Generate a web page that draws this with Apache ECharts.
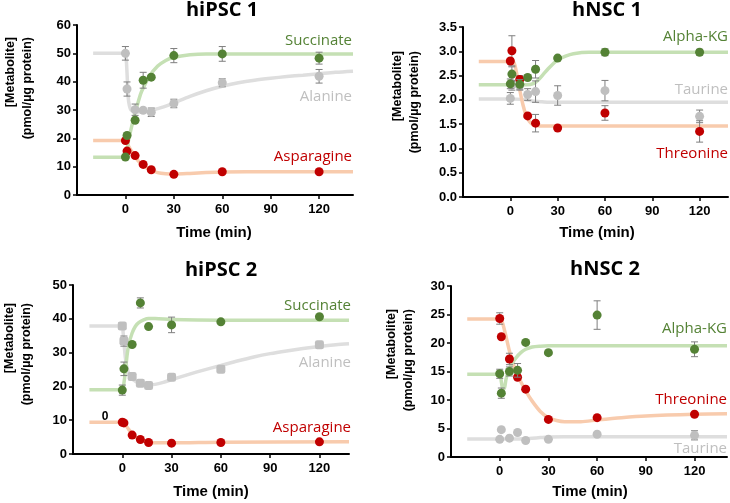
<!DOCTYPE html>
<html>
<head>
<meta charset="utf-8">
<script src="https://cdn.jsdelivr.net/npm/echarts@6/dist/echarts.min.js"></script>
<style>html,body{margin:0;padding:0;background:#fff}#c{width:730px;height:503px}</style>
</head>
<body>
<div id="c"></div>
<script>
// ---- data ----
const times = [0, 1, 6, 11, 16, 30, 60, 120];
const xTicks = [0, 30, 60, 90, 120];

// hiPSC 1
const p1Ala = [50.0, 37.4, 30.1, 29.9, 29.2, 32.3, 39.6, 41.9];
const p1AlaErr = [2.4, 2.5, 2.0, 0.5, 1.5, 1.5, 1.4, 2.4];
const p1Suc = [13.4, 21.0, 26.4, 40.5, 41.6, 49.2, 49.8, 48.3];
const p1SucErr = [0, 0, 0, 2.8, 0, 2.5, 2.6, 2.1];
const p1Asn = [19.2, 15.5, 13.9, 10.8, 8.9, 7.3, 8.2, 8.2];
const p1AsnErr = [0, 0, 0, 0, 0, 0, 0, 0];
const p1AlaFitT = [-20, 0, 0.5, 1, 1.5, 2, 3, 4, 6, 10, 15, 20, 25, 30, 40, 50, 60, 70, 80, 90, 100, 110, 120, 130, 141];
const p1AlaFitV = [50, 50, 48, 43, 37, 33, 30.5, 29.8, 29.5, 29.3, 29.6, 30.5, 31.4, 32.5, 34.8, 36.8, 38.4, 39.6, 40.5, 41.2, 41.8, 42.3, 42.8, 43.3, 43.7];
const p1SucFitT = [-20, 0, 1, 2, 4, 6, 8, 10, 15, 20, 25, 30, 40, 50, 60, 90, 141];
const p1SucFitV = [13.3, 13.3, 16, 19.5, 24.5, 29, 33, 36.5, 42, 45.5, 47.5, 48.6, 49.5, 49.8, 49.8, 49.8, 49.8];
const p1AsnFitT = [-20, 0, 1, 2, 4, 6, 8, 10, 15, 20, 25, 30, 40, 50, 60, 90, 141];
const p1AsnFitV = [19.2, 19.2, 18.5, 17.2, 15.3, 13.5, 12.0, 10.8, 8.9, 7.9, 7.5, 7.4, 7.6, 7.9, 8.1, 8.2, 8.2];

// hNSC 1
const p2Thr = [2.80, 3.01, 2.42, 1.67, 1.52, 1.42, 1.73, 1.35];
const p2ThrErr = [0.05, 0.31, 0.08, 0, 0.18, 0, 0.15, 0.22];
const p2Akg = [2.33, 2.53, 2.32, 2.46, 2.63, 2.86, 2.98, 2.98];
const p2AkgErr = [0.1, 0.15, 0.1, 0.05, 0.18, 0, 0.07, 0.06];
const p2Tau = [2.03, 2.30, 2.30, 2.11, 2.17, 2.09, 2.19, 1.66];
const p2TauErr = [0.12, 0.1, 0.1, 0.12, 0.22, 0.2, 0.21, 0.13];
const p2ThrFitT = [-20, 0, 2, 3, 4, 5, 6, 8, 10, 12, 14, 17, 20, 30, 60, 138];
const p2ThrFitV = [2.79, 2.79, 2.78, 2.7, 2.55, 2.38, 2.2, 1.9, 1.68, 1.56, 1.5, 1.47, 1.46, 1.46, 1.46, 1.46];
const p2AkgFitT = [-20, 0, 10, 15, 18, 21, 24, 27, 30, 35, 40, 50, 60, 138];
const p2AkgFitV = [2.31, 2.31, 2.31, 2.34, 2.42, 2.53, 2.64, 2.74, 2.82, 2.9, 2.95, 2.98, 2.98, 2.98];
const p2TauFitT = [-20, 0, 8, 12, 16, 20, 25, 30, 60, 138];
const p2TauFitV = [2.02, 2.02, 2.01, 1.99, 1.97, 1.96, 1.95, 1.95, 1.95, 1.95];

// hiPSC 2
const p3Ala = [37.9, 33.4, 22.9, 20.9, 20.3, 22.7, 25.1, 32.3];
const p3AlaErr = [1.0, 1.5, 0, 0, 0, 0, 0, 0];
const p3Suc = [18.9, 25.2, 32.4, 44.7, 37.7, 38.2, 39.1, 40.6];
const p3SucErr = [1.5, 2.0, 0, 1.5, 0, 2.3, 0, 0];
const p3Asn = [9.4, 9.2, 5.6, 4.3, 3.4, 3.2, 3.4, 3.6];
const p3AsnErr = [0, 0, 0, 0, 0, 0, 0, 0];
const p3AlaFitT = [-20, 0, 0.5, 1, 2, 3, 4, 6, 8, 10, 15, 20, 25, 30, 40, 50, 60, 70, 80, 90, 100, 110, 120, 130, 138];
const p3AlaFitV = [37.9, 37.9, 36, 33, 28, 25.3, 23.8, 22.3, 21.5, 21.0, 20.4, 20.6, 21.2, 22.0, 23.5, 24.9, 26.2, 27.5, 28.7, 29.7, 30.5, 31.2, 31.8, 32.3, 32.6];
const p3SucFitT = [-20, 0, 1, 2, 3, 4, 6, 8, 10, 13, 16, 20, 30, 60, 138];
const p3SucFitV = [19, 19, 21, 25, 29.5, 32.5, 35.8, 37.8, 38.9, 39.7, 40.1, 40.1, 39.8, 39.6, 39.6];
const p3AsnFitT = [-20, 0, 1, 2, 4, 6, 8, 10, 13, 16, 20, 30, 60, 138];
const p3AsnFitV = [9.4, 9.4, 9.2, 8.6, 7.2, 6.0, 5.1, 4.5, 3.8, 3.5, 3.3, 3.3, 3.5, 3.6];

// hNSC 2
const p4Thr = [24.3, 21.1, 17.2, 14.0, 11.9, 6.6, 6.9, 7.5];
const p4ThrErr = [1.0, 0, 1.0, 0, 0, 0, 0, 0];
const p4Akg = [14.6, 11.2, 15.0, 15.2, 20.1, 18.3, 24.9, 18.9];
const p4AkgErr = [0.8, 0.9, 0.8, 1.2, 0, 0, 2.5, 1.3];
const p4Tau = [3.1, 4.8, 3.3, 4.3, 2.9, 3.1, 4.0, 3.8];
const p4TauErr = [0, 0, 0, 0, 0, 0, 0, 0.8];
const p4ThrFitT = [-20, 0, 1, 2, 4, 6, 8, 10, 13, 16, 20, 25, 30, 35, 40, 50, 60, 75, 90, 120, 140];
const p4ThrFitV = [24.2, 24.2, 24.0, 23.3, 21, 18.6, 16.6, 15.0, 13.2, 11.6, 9.8, 8.0, 6.9, 6.4, 6.2, 6.2, 6.5, 6.9, 7.2, 7.5, 7.6];
const p4AkgFitT = [-20, 0, 1, 2, 3, 4, 6, 8, 10, 13, 16, 20, 25, 30, 60, 140];
const p4AkgFitV = [14.5, 14.5, 13.2, 11.8, 12.2, 13.8, 15.6, 16.6, 17.4, 18.3, 18.9, 19.3, 19.45, 19.5, 19.5, 19.5];
const p4TauFitT = [-20, 0, 10, 15, 20, 25, 30, 40, 60, 140];
const p4TauFitV = [3.15, 3.15, 3.15, 3.2, 3.3, 3.4, 3.5, 3.55, 3.55, 3.55];

// ---- styles ----
const GREEN = '#548235', GREEN_L = '#c5e0b4';
const RED = '#c00000', RED_L = '#f8cbad';
const GRAY = '#bfbfbf', GRAY_L = '#dedede';
const ERR = '#7f7f7f';

const panels = [
  { title: 'hiPSC 1', grid: {left: 77, top: 25, width: 276, height: 170}, xmax: 141, ymax: 60, yint: 10, dec: 0,
    titlePos: [222, 10], xnamePos: [214, 233], ynamePos: [19, 37],
    sets: [
      {name: 'Alanine', color: GRAY, lcolor: GRAY_L, v: p1Ala, e: p1AlaErr, ft: p1AlaFitT, fv: p1AlaFitV, sym: 'circle', lab: [352, 97]},
      {name: 'Asparagine', color: RED, lcolor: RED_L, v: p1Asn, e: p1AsnErr, ft: p1AsnFitT, fv: p1AsnFitV, sym: 'circle', lab: [352, 157]},
      {name: 'Succinate', color: GREEN, lcolor: GREEN_L, v: p1Suc, e: p1SucErr, ft: p1SucFitT, fv: p1SucFitV, sym: 'circle', lab: [352, 41]}
    ]},
  { title: 'hNSC 1', grid: {left: 463, top: 27, width: 265, height: 170}, xmax: 138, ymax: 3.5, yint: 0.5, dec: 1,
    titlePos: [607, 10], xnamePos: [597, 233], ynamePos: [406, 51],
    sets: [
      {name: 'Taurine', color: GRAY, lcolor: GRAY_L, v: p2Tau, e: p2TauErr, ft: p2TauFitT, fv: p2TauFitV, sym: 'circle', lab: [728, 90]},
      {name: 'Threonine', color: RED, lcolor: RED_L, v: p2Thr, e: p2ThrErr, ft: p2ThrFitT, fv: p2ThrFitV, sym: 'circle', lab: [728, 154]},
      {name: 'Alpha-KG', color: GREEN, lcolor: GREEN_L, v: p2Akg, e: p2AkgErr, ft: p2AkgFitT, fv: p2AkgFitV, sym: 'circle', lab: [728, 37]}
    ]},
  { title: 'hiPSC 2', grid: {left: 73, top: 285, width: 276, height: 169}, xmax: 138, ymax: 50, yint: 10, dec: 0,
    titlePos: [221, 270], xnamePos: [211, 492], ynamePos: [18, 303],
    sets: [
      {name: 'Alanine', color: GRAY, lcolor: GRAY_L, v: p3Ala, e: p3AlaErr, ft: p3AlaFitT, fv: p3AlaFitV, sym: 'roundRect', lab: [351, 363]},
      {name: 'Asparagine', color: RED, lcolor: RED_L, v: p3Asn, e: p3AsnErr, ft: p3AsnFitT, fv: p3AsnFitV, sym: 'circle', lab: [351, 428]},
      {name: 'Succinate', color: GREEN, lcolor: GREEN_L, v: p3Suc, e: p3SucErr, ft: p3SucFitT, fv: p3SucFitV, sym: 'circle', lab: [351, 306]}
    ]},
  { title: 'hNSC 2', grid: {left: 451, top: 286, width: 276, height: 171}, xmax: 140, ymax: 30, yint: 5, dec: 0,
    titlePos: [605, 269], xnamePos: [590, 492], ynamePos: [400, 309],
    sets: [
      {name: 'Taurine', color: GRAY, lcolor: GRAY_L, v: p4Tau, e: p4TauErr, ft: p4TauFitT, fv: p4TauFitV, sym: 'circle', lab: [727, 449]},
      {name: 'Threonine', color: RED, lcolor: RED_L, v: p4Thr, e: p4ThrErr, ft: p4ThrFitT, fv: p4ThrFitV, sym: 'circle', lab: [727, 400]},
      {name: 'Alpha-KG', color: GREEN, lcolor: GREEN_L, v: p4Akg, e: p4AkgErr, ft: p4AkgFitT, fv: p4AkgFitV, sym: 'circle', lab: [727, 329]}
    ]}
];

const grids = [], xAxes = [], yAxes = [], series = [], graphics = [];
const TICKFONT = {fontFamily: 'Liberation Sans, Arial', fontWeight: 'bold', fontSize: 13, color: '#000'};

function errRender(params, api) {
  const x = api.value(0), y = api.value(1), e = api.value(2);
  if (!e) return null;
  const t = api.coord([x, y + e]), b = api.coord([x, y - e]);
  const hw = 3.5;
  const st = {stroke: ERR, lineWidth: 1};
  return {type: 'group', children: [
    {type: 'line', shape: {x1: t[0], y1: t[1], x2: b[0], y2: b[1]}, style: st},
    {type: 'line', shape: {x1: t[0] - hw, y1: t[1], x2: t[0] + hw, y2: t[1]}, style: st},
    {type: 'line', shape: {x1: b[0] - hw, y1: b[1], x2: b[0] + hw, y2: b[1]}, style: st}
  ]};
}

panels.forEach((p, i) => {
  grids.push(Object.assign({containLabel: false}, p.grid));
  xAxes.push({
    type: 'value', gridIndex: i, min: -30, max: p.xmax, interval: 30,
    axisLine: {show: true, onZero: false, lineStyle: {color: '#000', width: 2}},
    axisTick: {show: true, length: 4, customValues: xTicks, lineStyle: {color: '#000', width: 1.5}},
    axisLabel: Object.assign({customValues: xTicks, margin: 8}, TICKFONT),
    splitLine: {show: false}
  });
  yAxes.push({
    type: 'value', gridIndex: i, min: 0, max: p.ymax, interval: p.yint,
    axisLine: {show: true, onZero: false, lineStyle: {color: '#000', width: 2}},
    axisTick: {show: true, length: 4, lineStyle: {color: '#000', width: 1.5}},
    axisLabel: Object.assign({margin: 6, formatter: v => v.toFixed(p.dec)}, TICKFONT),
    splitLine: {show: false}
  });
  p.sets.forEach((s, k) => {
    series.push({
      type: 'line', xAxisIndex: i, yAxisIndex: i, smooth: 0.3, symbol: 'none',
      lineStyle: {color: s.lcolor, width: 3.5}, z: 1 + k * 0.01, silent: true,
      data: s.ft.map((t, j) => [t, s.fv[j]])
    });
  });
  p.sets.forEach((s, k) => {
    series.push({
      type: 'custom', xAxisIndex: i, yAxisIndex: i, renderItem: errRender, z: 3 + k * 0.1,
      encode: {x: 0, y: 1}, data: times.map((t, j) => [t, s.v[j], s.e[j]]), silent: true
    });
    series.push({
      type: 'scatter', xAxisIndex: i, yAxisIndex: i, symbol: s.sym, symbolSize: 9, z: 3.05 + k * 0.1,
      itemStyle: {color: s.color, opacity: 1}, data: times.map((t, j) => [t, s.v[j]]), silent: true
    });
    graphics.push({type: 'text', x: s.lab[0], y: s.lab[1], style: {text: s.name, fill: s.color,
      font: '15px "Open Sans"', textAlign: 'right', textVerticalAlign: 'middle'}});
  });
  graphics.push({type: 'text', x: p.titlePos[0], y: p.titlePos[1], style: {text: p.title, fill: '#000',
    font: 'bold 20px "Open Sans"', textAlign: 'center', textVerticalAlign: 'middle'}});
  graphics.push({type: 'text', x: p.xnamePos[0], y: p.xnamePos[1], style: {text: 'Time (min)', fill: '#000',
    font: 'bold 15px "Liberation Sans", Arial', textAlign: 'center', textVerticalAlign: 'middle'}});
  graphics.push({type: 'text', x: p.ynamePos[0], y: p.ynamePos[1], rotation: Math.PI / 2,
    style: {text: '[Metabolite]\n(pmol/µg protein)', fill: '#000', lineHeight: 17,
    font: 'bold 12.5px "Liberation Sans", Arial', textAlign: 'right', textVerticalAlign: 'middle'}});
});
graphics.push({type: 'text', x: 105, y: 417, style: {text: '0', fill: '#000',
  font: 'bold 12px "Liberation Sans", Arial', textAlign: 'center', textVerticalAlign: 'middle'}});

const chart = echarts.init(document.getElementById('c'), null, {renderer: 'canvas'});
chart.setOption({
  animation: false,
  backgroundColor: '#fff',
  grid: grids, xAxis: xAxes, yAxis: yAxes, series: series, graphic: graphics
});
</script>
</body>
</html>
